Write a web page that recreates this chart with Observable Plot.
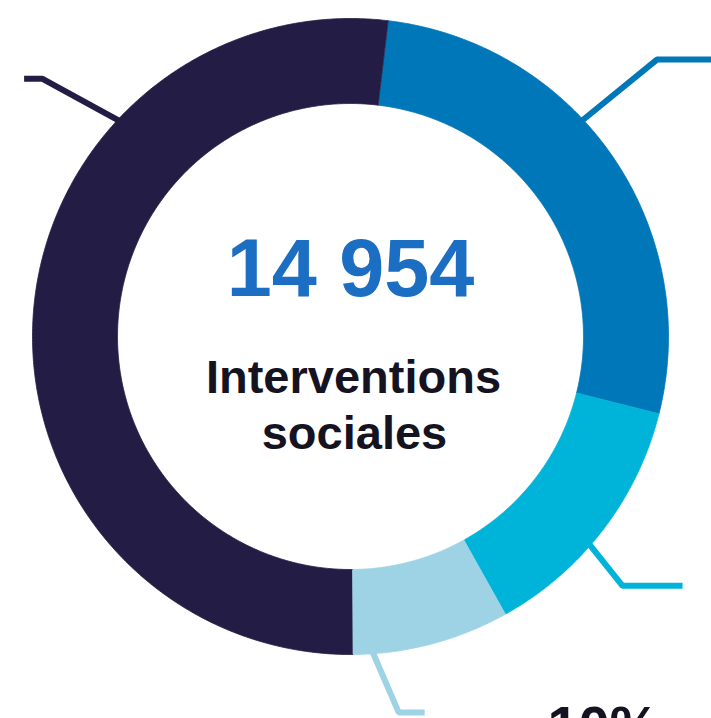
<!DOCTYPE html>
<html><head><meta charset="utf-8">
<script src="https://cdn.jsdelivr.net/npm/d3@7"></script>
<script src="https://cdn.jsdelivr.net/npm/@observablehq/plot@0.6"></script>
<style>html,body{margin:0;padding:0;background:#fff;overflow:hidden}#chart svg{display:block}</style>
</head><body><div id="chart"></div>
<script>
// ---- data ----
const categories = ["Segment A", "Segment B", "Segment C", "Segment D"];
const shares = [27, 13, 8, 52];           // % of interventions, clockwise from ~12 o'clock
const colors = ["#0077b8", "#00b4d9", "#9dd3e5", "#231d45"];
const totalLabel = "14 954";
const centerLines = ["Interventions", "sociales"];
const partialLabel = "10%";
// leader (callout) lines: anchor angle on ring, elbow (radius, angle), horizontal run
const leaderAnchor = [47, 131, 176, 313];
const leaderElbowR = [413, 369, 379, 402];
const leaderElbowA = [47.9, 132.5, 172.7, 309.9];
const leaderRun = [70, 60, 26, -18];

// ---- layout ----
const W = 711, H = 718, cx = 350, cy = 336;
const R = 318, r = 233, startDeg = 6.8;
const rad = d => d * Math.PI / 180;
const polar = (deg, rr) => ({x: rr * Math.sin(rad(deg)), y: rr * Math.cos(rad(deg))});

const pie = d3.pie().sort(null).value(d => d.share)
  .startAngle(rad(startDeg)).endAngle(rad(startDeg + 360));
const table = categories.map((cat, i) => ({cat, share: shares[i]}));
const arcs = pie(table);

const slicePts = [];
for (const a of arcs) {
  const a0 = a.startAngle * 180 / Math.PI, a1 = a.endAngle * 180 / Math.PI;
  const n = Math.max(2, Math.ceil((a1 - a0) / 0.5));
  for (let k = 0; k <= n; k++) slicePts.push({cat: a.data.cat, ...polar(a0 + (a1 - a0) * k / n, R)});
  for (let k = n; k >= 0; k--) slicePts.push({cat: a.data.cat, ...polar(a0 + (a1 - a0) * k / n, r)});
}

const leaderPts = [];
categories.forEach((cat, i) => {
  const p0 = polar(leaderAnchor[i], R - 2);
  const p1 = polar(leaderElbowA[i], leaderElbowR[i]);
  leaderPts.push({cat, ...p0}, {cat, ...p1}, {cat, x: p1.x + leaderRun[i], y: p1.y});
});

const font = "'Liberation Sans', Arial, sans-serif";
const chart = Plot.plot({
  width: W, height: H,
  margin: 0,
  x: {domain: [-cx, W - cx], axis: null},
  y: {domain: [-(H - cy), cy], axis: null},
  color: {domain: categories, range: colors},
  style: {background: "#fff", overflow: "visible"},
  marks: [
    Plot.line(leaderPts, {x: "x", y: "y", z: "cat", stroke: "cat", strokeWidth: 6,
      strokeLinejoin: "miter", strokeLinecap: "butt", curve: "linear"}),
    Plot.line(slicePts, {x: "x", y: "y", z: "cat", fill: "cat", stroke: "cat", strokeWidth: 0.8, curve: "linear"}),
    Plot.text([totalLabel], {x: 0, y: cy - 295, text: d => d, lineAnchor: "bottom",
      fontSize: 81, fontWeight: "bold", fill: "#1b6ec2", fontFamily: font}),
    Plot.text([centerLines[0]], {x: 3, y: cy - 392, text: d => d, lineAnchor: "bottom",
      fontSize: 47, fontWeight: "bold", fill: "#15131f", fontFamily: font}),
    Plot.text([centerLines[1]], {x: 4, y: cy - 448, text: d => d, lineAnchor: "bottom",
      fontSize: 47, fontWeight: "bold", fill: "#15131f", fontFamily: font}),
    Plot.text([partialLabel], {x: 603 - cx, y: cy - 744, text: d => d, lineAnchor: "bottom",
      fontSize: 56, fontWeight: "bold", fill: "#15131f", fontFamily: font})
  ]
});
document.getElementById("chart").appendChild(chart);
</script>
</body></html>
